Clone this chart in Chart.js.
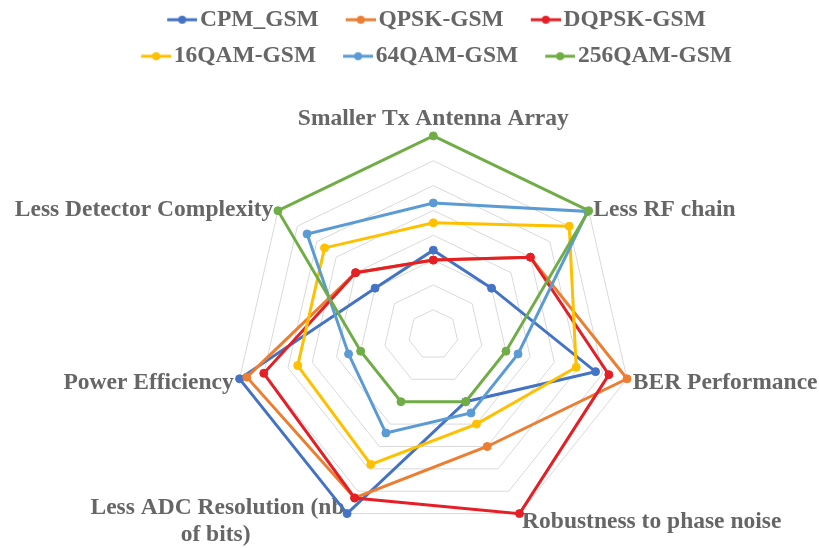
<!DOCTYPE html>
<html>
<head>
<meta charset="utf-8">
<script src="https://cdn.jsdelivr.net/npm/chart.js@4/dist/chart.umd.min.js"></script>
<style>
  html, body { margin: 0; padding: 0; background: #fff; }
  #wrap { width: 819px; height: 548px; }
</style>
</head>
<body>
<div id="wrap"><canvas id="myChart"></canvas></div>
<script>
// axis names (clockwise from the top)
var categories = [
    'Smaller Tx Antenna Array',
    'Less RF chain',
    'BER Performance',
    'Robustness to phase noise',
    ['Less ADC Resolution (nb', 'of bits)                '],
    'Power Efficiency',
    'Less Detector Complexity'
];
var seriesNames = ['CPM_GSM', 'QPSK-GSM', 'DQPSK-GSM', '16QAM-GSM', '64QAM-GSM', '256QAM-GSM'];
var cpmGsm    = [3.4, 3, 6.7, 3, 8, 8, 3];
var qpskGsm   = [3, 5, 8, 5, 7.3, 7.7, 4];
var dqpskGsm  = [3, 5, 7.25, 8, 7.3, 7, 4];
var qam16Gsm  = [4.5, 7, 5.9, 4, 5.8, 5.6, 5.6];
var qam64Gsm  = [5.3, 7.95, 3.5, 3.5, 4.4, 3.5, 6.5];
var qam256Gsm = [8, 8, 3, 3, 3, 3, 8];
var seriesValues = [cpmGsm, qpskGsm, dqpskGsm, qam16Gsm, qam64Gsm, qam256Gsm];
var scaleMax = 8;
var scaleStep = 1;

var colors = ['#4472C4', '#ED7D31', '#E41F26', '#FFC000', '#5B9BD5', '#70AD47'];
var textGray = '#666666';
var serif = "'Liberation Serif', 'Times New Roman', serif";

// legend icon: short line with a dot, padded on the left
function legendIcon(color) {
    var c = document.createElement('canvas');
    c.width = 53; c.height = 12;
    var g = c.getContext('2d');
    g.strokeStyle = color;
    g.lineWidth = 3;
    g.beginPath(); g.moveTo(23, 6); g.lineTo(53, 6); g.stroke();
    g.fillStyle = color;
    g.beginPath(); g.arc(38, 6, 4, 0, Math.PI * 2); g.fill();
    return c;
}
var icons = colors.map(legendIcon);

var datasets = [];
for (var i = 0; i < seriesNames.length; i++) {
    datasets.push({
        label: seriesNames[i],
        data: seriesValues[i],
        borderColor: colors[i],
        backgroundColor: colors[i],
        pointBackgroundColor: colors[i],
        pointBorderColor: colors[i],
        borderWidth: 3,
        pointRadius: 4,
        pointBorderWidth: 1,
        fill: false,
        order: seriesNames.length - i
    });
}

// plot geometry of the reference
var CX = 433.3, CY = 334.6, R = 198.7, LABEL_PAD = 6, LABEL_SHIFT = 2.5;

var ctx = document.getElementById('myChart');
var myChart = new Chart(ctx, {
    type: 'radar',
    data: { labels: categories, datasets: datasets },
    options: {
        responsive: true,
        maintainAspectRatio: false,
        animation: false,
        layout: { padding: { top: -5, left: 80, right: 40, bottom: 0 } },
        plugins: {
            tooltip: { enabled: false },
            legend: {
                position: 'top',
                labels: {
                    usePointStyle: true,
                    pointStyleWidth: 35,
                    padding: 13,
                    color: textGray,
                    font: { family: serif, size: 23.5, weight: 'bold' },
                    sort: function (a, b) { return a.datasetIndex - b.datasetIndex; },
                    generateLabels: function (chart) {
                        var items = Chart.defaults.plugins.legend.labels.generateLabels(chart);
                        items.forEach(function (it) { it.pointStyle = icons[it.datasetIndex]; });
                        return items;
                    }
                }
            }
        },
        scales: {
            r: {
                min: 0,
                max: scaleMax,
                ticks: { stepSize: scaleStep, display: false },
                angleLines: { display: false },
                grid: { color: '#D9D9D9', lineWidth: 1 },
                pointLabels: {
                    color: textGray,
                    padding: LABEL_PAD,
                    font: { family: serif, size: 23.5, weight: 'bold', lineHeight: 1.13 }
                },
                afterFit: function (scale) {
                    scale.xCenter = CX;
                    scale.yCenter = CY;
                    scale.drawingArea = R;
                    (scale._pointLabelItems || []).forEach(function (item, i) {
                        var h = item.bottom - item.top, w = item.right - item.left;
                        var p = scale.getPointPosition(i, R + LABEL_PAD);
                        var y = (i === 0 ? p.y - h : p.y - h / 2) + LABEL_SHIFT;
                        var left = item.textAlign === 'center' ? p.x - w / 2 :
                                   item.textAlign === 'right' ? p.x - w : p.x;
                        item.x = p.x; item.y = y; item.top = y; item.bottom = y + h;
                        item.left = left; item.right = left + w;
                    });
                }
            }
        }
    }
});
</script>
</body>
</html>
